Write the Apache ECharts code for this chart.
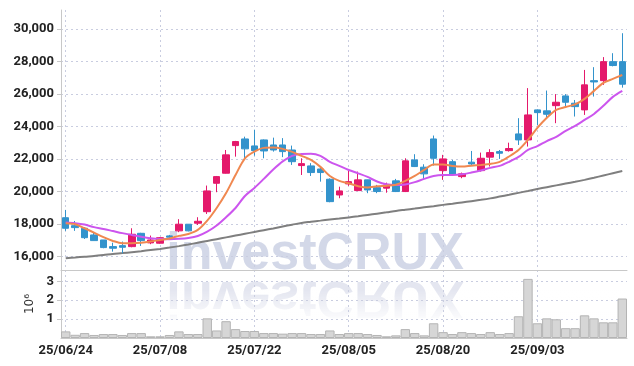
<!DOCTYPE html>
<html><head><meta charset="utf-8">
<script src="https://cdn.jsdelivr.net/npm/echarts@6/dist/echarts.min.js"></script>
<style>html,body{margin:0;padding:0;background:#fff}#c{width:634px;height:366px}</style>
</head><body><div id="c"></div>
<script>
const dates = ['25/06/24','25/06/25','25/06/26','25/06/27','25/06/30','25/07/01','25/07/02','25/07/03','25/07/04','25/07/07',
'25/07/08','25/07/09','25/07/10','25/07/11','25/07/14','25/07/15','25/07/16','25/07/17','25/07/18','25/07/21',
'25/07/22','25/07/23','25/07/24','25/07/25','25/07/28','25/07/29','25/07/30','25/07/31','25/08/01','25/08/04',
'25/08/05','25/08/06','25/08/07','25/08/08','25/08/11','25/08/12','25/08/13','25/08/14','25/08/18','25/08/19',
'25/08/20','25/08/21','25/08/22','25/08/25','25/08/26','25/08/27','25/08/28','25/08/29','25/09/01','25/09/02',
'25/09/03','25/09/04','25/09/05','25/09/08','25/09/09','25/09/10','25/09/11','25/09/12','25/09/15','25/09/16'];
const open  = [18380,17890,17730,17320,17010,16600,16660,16600,17420,16830,16810,17260,17570,17980,18040,18750,20500,21120,22820,23230,22800,23170,22860,22860,22550,21590,21570,21380,20750,19780,20460,20050,20710,20230,20200,20650,19990,21940,21490,23230,21280,21830,20910,21800,21280,22110,22450,22510,23540,23170,25020,24960,25280,25880,25430,25020,26820,26820,27990,27990];
const close = [17730,17770,17150,16970,16540,16500,16560,17360,16970,17010,17150,17180,17980,17570,18160,20030,20910,22250,23070,22620,22510,22490,22550,22450,21830,21710,21160,21160,19370,20030,20600,20710,20090,19990,20400,19990,21880,21530,21080,22040,22000,21060,21080,21690,22040,22390,22350,22640,23170,24710,24850,24750,25490,25490,25220,26560,26740,27990,27750,26600];
const low   = [17570,17570,17070,16970,16500,16290,16190,16560,16640,16750,16780,17010,17490,17540,17930,18610,19950,21100,22140,22000,22200,22040,22450,22110,21630,21010,20950,20600,19330,19580,20340,20020,19890,19890,19920,19960,19960,21500,20770,21590,20710,21000,20810,21570,21220,21530,22000,22450,22860,22760,24090,24510,24200,25220,24610,24710,25840,26560,27700,26390];
const high  = [18860,18180,17800,17460,17010,16840,16910,17730,17450,17280,17180,17320,18290,17990,18410,20360,20950,22550,23110,23370,23800,23200,23310,23280,22820,22040,21740,21530,20800,20290,21320,21220,20720,20400,20540,20770,22040,22290,21670,23440,22250,21940,21160,22490,22390,22600,22550,23000,24510,26360,25050,26210,25990,25990,25630,27480,27650,28270,28510,29740];
const ma5   = [18040,17980,17730,17460,17180,16950,16810,16810,16840,16910,17010,17100,17260,17380,17630,18200,18980,19900,21010,22040,22450,22680,22700,22620,22430,22190,21940,21510,20950,20650,20500,20320,20240,20310,20350,20410,20650,20950,21320,21660,21660,21570,21530,21580,21630,21690,21820,22150,22550,23170,23910,24530,25020,25200,25360,25700,26190,26680,26930,27170];
const ma10  = [18080,18040,17960,17800,17690,17560,17430,17320,17210,17120,17070,17060,17080,17130,17250,17520,17900,18410,18980,19720,20210,20770,21350,21850,22190,22310,22320,22190,21820,21570,21320,21110,20890,20610,20440,20400,20430,20570,20770,20950,21010,21010,21050,21160,21290,21450,21570,21820,22120,22550,22790,23100,23360,23730,24030,24400,24770,25270,25820,26190];
const ma60  = [15880,15930,15980,16020,16080,16150,16200,16260,16320,16390,16460,16540,16630,16730,16840,16950,17060,17170,17280,17390,17500,17610,17720,17840,17950,18060,18130,18200,18270,18330,18400,18470,18550,18630,18710,18800,18870,18940,19020,19090,19170,19240,19320,19400,19480,19570,19680,19790,19910,20030,20150,20260,20370,20480,20590,20710,20840,20980,21120,21260];
const volume = [0.35,0.17,0.26,0.16,0.21,0.21,0.16,0.26,0.26,0.09,0.09,0.16,0.35,0.21,0.21,1.04,0.40,0.89,0.47,0.37,0.37,0.26,0.26,0.23,0.26,0.26,0.21,0.21,0.40,0.21,0.26,0.26,0.21,0.16,0.09,0.14,0.47,0.26,0.14,0.78,0.31,0.21,0.31,0.26,0.21,0.31,0.21,0.26,1.15,3.13,0.78,1.04,0.99,0.52,0.52,1.20,1.04,0.83,0.83,2.09];
const priceTicks = [16000,18000,20000,22000,24000,26000,28000,30000];
const volTicks = [1,2,3];

const FONT = "Roboto, 'DejaVu Sans Condensed', sans-serif";
const ohlc = open.map((o,i)=>[o, close[i], low[i], high[i]]);
const chart = echarts.init(document.getElementById('c'));
const gridLine = {show:true, lineStyle:{color:'#c9cde0', type:[2,3], width:1}};
const labelStyle = {color:'#222', fontFamily:FONT, fontSize:13, fontWeight:'bold'};
chart.setOption({
  animation:false,
  graphic:[
    {type:'text', z:-10, x:315, y:255, style:{text:'investCRUX', align:'center', verticalAlign:'middle', font:'bold 52px "Liberation Sans"', fill:'rgba(196,203,224,0.75)'}},
    {type:'text', z:-10, x:315, y:296, scaleY:-1, style:{text:'investCRUX', align:'center', verticalAlign:'middle', font:'bold 52px "Liberation Sans"', fill:'rgba(205,210,228,0.55)'}},
    {type:'rect', z:-5, shape:{x:61, y:290, width:566, height:48}, style:{
      fill:{type:'linear', x:0, y:0, x2:0, y2:1, global:false, colorStops:[{offset:0, color:'rgba(255,255,255,0)'},{offset:0.6, color:'rgba(255,255,255,0.85)'},{offset:1, color:'rgba(255,255,255,1)'}]}}}
  ],
  grid:[
    {left:61, right:7, top:10, height:260, containLabel:false},
    {left:61, right:7, top:270, height:68, containLabel:false}
  ],
  xAxis:[
    {type:'category', gridIndex:0, data:dates, boundaryGap:true,
     axisLine:{show:true, lineStyle:{color:'#c8c8c8'}}, axisTick:{show:false}, axisLabel:{show:false},
     splitLine:Object.assign({interval:9, alignWithLabel:true}, gridLine)},
    {type:'category', gridIndex:1, data:dates, boundaryGap:true,
     axisLine:{show:true, lineStyle:{color:'#c8c8c8'}}, axisTick:{show:false, alignWithLabel:true, interval:9},
     axisLabel:Object.assign({interval:9, margin:6}, labelStyle),
     splitLine:Object.assign({interval:9, alignWithLabel:true}, gridLine)}
  ],
  yAxis:[
    {type:'value', gridIndex:0, min:15160, max:31170, position:'left',
     axisLine:{show:true, lineStyle:{color:'#c8c8c8'}},
     axisTick:{show:true, length:4, lineStyle:{color:'#c8c8c8'}, customValues:priceTicks},
     axisLabel:Object.assign({customValues:priceTicks, margin:7, formatter:v=>v.toLocaleString('en-US')}, labelStyle),
     splitLine:gridLine},
    {type:'value', gridIndex:1, min:0, max:3.6, position:'left',
     name:'10⁶', nameLocation:'middle', nameRotate:90, nameGap:24,
     nameTextStyle:{color:'#333', fontFamily:'DejaVu Sans', fontSize:12},
     axisLine:{show:true, lineStyle:{color:'#c8c8c8'}},
     axisTick:{show:true, length:4, lineStyle:{color:'#c8c8c8'}, customValues:volTicks},
     axisLabel:Object.assign({customValues:volTicks, margin:7}, labelStyle),
     splitLine:gridLine}
  ],
  series:[
    {type:'bar', xAxisIndex:1, yAxisIndex:1, data:volume, barWidth:'100%', barCategoryGap:0,
     itemStyle:{color:'#d6d6d6', borderColor:'#b4b4b4', borderWidth:1}},
    {type:'line', xAxisIndex:0, yAxisIndex:0, data:ma60, symbol:'none', smooth:0.3, lineStyle:{color:'#7f7f7f', width:2}, z:3},
    {type:'candlestick', xAxisIndex:0, yAxisIndex:0, data:ohlc, barWidth:7,
     itemStyle:{color:'#e4196b', color0:'#3393cc', borderColor:'#e4196b', borderColor0:'#3393cc', borderWidth:1}, z:4},
    {type:'line', xAxisIndex:0, yAxisIndex:0, data:ma10, symbol:'none', smooth:0.3, lineStyle:{color:'#cc55ee', width:2}, z:5},
    {type:'line', xAxisIndex:0, yAxisIndex:0, data:ma5, symbol:'none', smooth:0.3, lineStyle:{color:'#f08850', width:2}, z:6}
  ]
});
</script></body></html>
